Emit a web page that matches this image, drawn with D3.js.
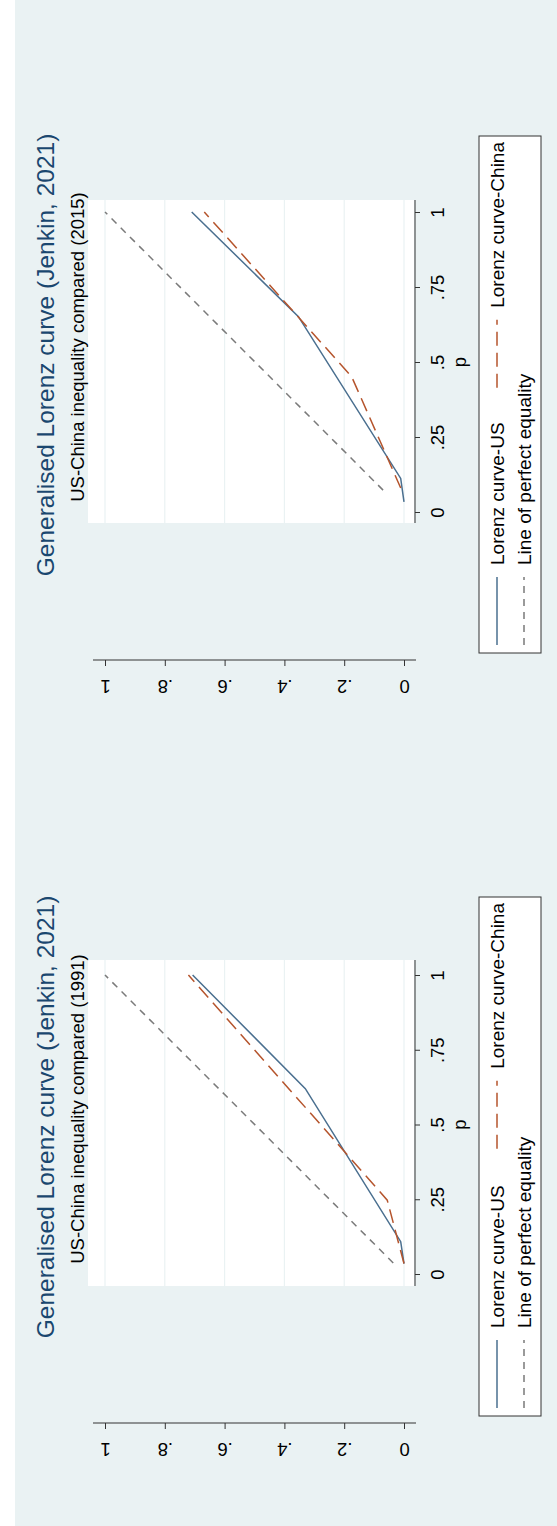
<!DOCTYPE html>
<html><head><meta charset="utf-8">
<script src="https://cdn.jsdelivr.net/npm/d3@7"></script>
<style>body{margin:0;background:#fff}svg{display:block;font-family:Arial,"Liberation Sans",sans-serif}</style>
</head><body>
<script>
const panels = ["2015", "1991"];
const yTicks = [0, 0.2, 0.4, 0.6, 0.8, 1];
const yTickLabels = ["0", ".2", ".4", ".6", ".8", "1"];
const pTicks = [0, 0.25, 0.5, 0.75, 1];
const pTickLabels = ["0", ".25", ".5", ".75", "1"];
const us2015 = [[0.034, 0], [0.112, 0.011], [0.651, 0.353], [1, 0.71]];
const china2015 = [[0.08, 0.011], [0.451, 0.175], [1, 0.668]];
const eq2015 = [[0.073, 0.07], [1, 1]];
const us1991 = [[0.035, 0], [0.108, 0.011], [0.62, 0.33], [1, 0.707]];
const china1991 = [[0.035, 0], [0.247, 0.056], [1, 0.721]];
const eq1991 = [[0.037, 0.036], [1, 1]];
const seriesByPanel = {"2015": [us2015, china2015, eq2015], "1991": [us1991, china1991, eq1991]};
const legendLabels = ["Lorenz curve-US", "Lorenz curve-China", "Line of perfect equality"];

const W = 557, H = 1526;
const svg = d3.select("body").append("svg").attr("width", W).attr("height", H);
svg.append("rect").attr("x", 15).attr("y", 0).attr("width", W - 15).attr("height", H).attr("fill", "#eaf2f3");

const colors = ["#4a6f8f", "#b5542c", "#7a7a7a"];
const dashes = [null, "14,7", "7,6"];
const L = d3.scaleLinear().domain([0, 1]).range([404, 105]);

const layout = {"2015": {p0: 512, p1: 212, top: 200, bot: 523, yAxis: 660, leg: [136, 653], mid: 355},
                "1991": {p0: 1274, p1: 975, top: 960, bot: 1286, yAxis: 1423, leg: [897, 1416], mid: 1117}};

panels.forEach(k => {
  const c = layout[k];
  const P = d3.scaleLinear().domain([0, 1]).range([c.p0, c.p1]);
  const g = svg.append("g");
  g.append("rect").attr("x", 88).attr("y", c.top).attr("width", 326).attr("height", c.bot - c.top).attr("fill", "#fff");
  yTicks.forEach(t => g.append("line").attr("x1", L(t)).attr("x2", L(t)).attr("y1", c.top).attr("y2", c.bot).attr("stroke", "#eaf2f3").attr("stroke-width", 1.2));
  const ax = g.append("g").attr("transform", "translate(415,0)").call(d3.axisRight(P).tickValues(pTicks).tickFormat((d, i) => pTickLabels[i]).tickSize(5));
  ax.select(".domain").attr("stroke", "#333").attr("d", `M0,${c.top}V${c.bot}`);
  ax.selectAll(".tick line").attr("stroke", "#333");
  ax.selectAll(".tick text").attr("x", 0).attr("y", 0).attr("dy", null)
    .attr("text-anchor", "middle").attr("dominant-baseline", "middle").attr("transform", "translate(24,0) rotate(-90)")
    .attr("font-size", 18.5).attr("fill", "#000");
  g.append("text").attr("transform", `translate(461,${(c.p0 + c.p1) / 2}) rotate(-90)`).attr("text-anchor", "middle")
    .attr("dominant-baseline", "middle").attr("font-size", 18.5).text("p");
  const ay = g.append("g").attr("transform", `translate(0,${c.yAxis})`).call(d3.axisBottom(L).tickValues(yTicks).tickFormat((d, i) => yTickLabels[i]).tickSize(6));
  ay.select(".domain").attr("stroke", "#333").attr("d", "M93,0H416");
  ay.selectAll(".tick line").attr("stroke", "#333");
  ay.selectAll(".tick text").attr("y", 0).attr("dy", null).attr("transform", "translate(0,25) rotate(180)")
    .attr("dominant-baseline", "middle").attr("font-size", 18.5).attr("fill", "#000");
  const line = d3.line().x(d => L(d[1])).y(d => P(d[0]));
  seriesByPanel[k].forEach((s, i) => g.append("path").attr("d", line(s)).attr("fill", "none")
    .attr("stroke", colors[i]).attr("stroke-width", 1.5).attr("stroke-dasharray", dashes[i]));
  g.append("text").attr("transform", `translate(54,${c.mid}) rotate(-90)`).attr("text-anchor", "middle")
    .attr("font-size", 24.5).attr("fill", "#1a476f").text("Generalised Lorenz curve (Jenkin, 2021)");
  g.append("text").attr("transform", `translate(84,${c.mid - 8}) rotate(-90)`).attr("text-anchor", "middle")
    .attr("font-size", 18.5).attr("fill", "#000").text(`US-China inequality compared (${k})`);
  g.append("rect").attr("x", 479).attr("y", c.leg[0]).attr("width", 62).attr("height", c.leg[1] - c.leg[0])
    .attr("fill", "#fff").attr("stroke", "#333").attr("stroke-width", 1);
  const items = [[497, c.leg[1] - 8, 0], [497, null, 1], [524, c.leg[1] - 8, 2]];
  items.forEach(([x, yb, i]) => {
    const t = g.append("text").attr("font-size", 19).text(legendLabels[i]);
    if (yb === null) {
      const len = t.node().getComputedTextLength();
      yb = c.leg[0] + 6 + len + 80;
    }
    t.attr("transform", `translate(${x + 7},${yb - 80}) rotate(-90)`);
    g.append("line").attr("x1", x).attr("x2", x).attr("y1", yb).attr("y2", yb - 68)
      .attr("stroke", colors[i]).attr("stroke-width", 1.5).attr("stroke-dasharray", dashes[i]);
  });
});
</script>
</body></html>
